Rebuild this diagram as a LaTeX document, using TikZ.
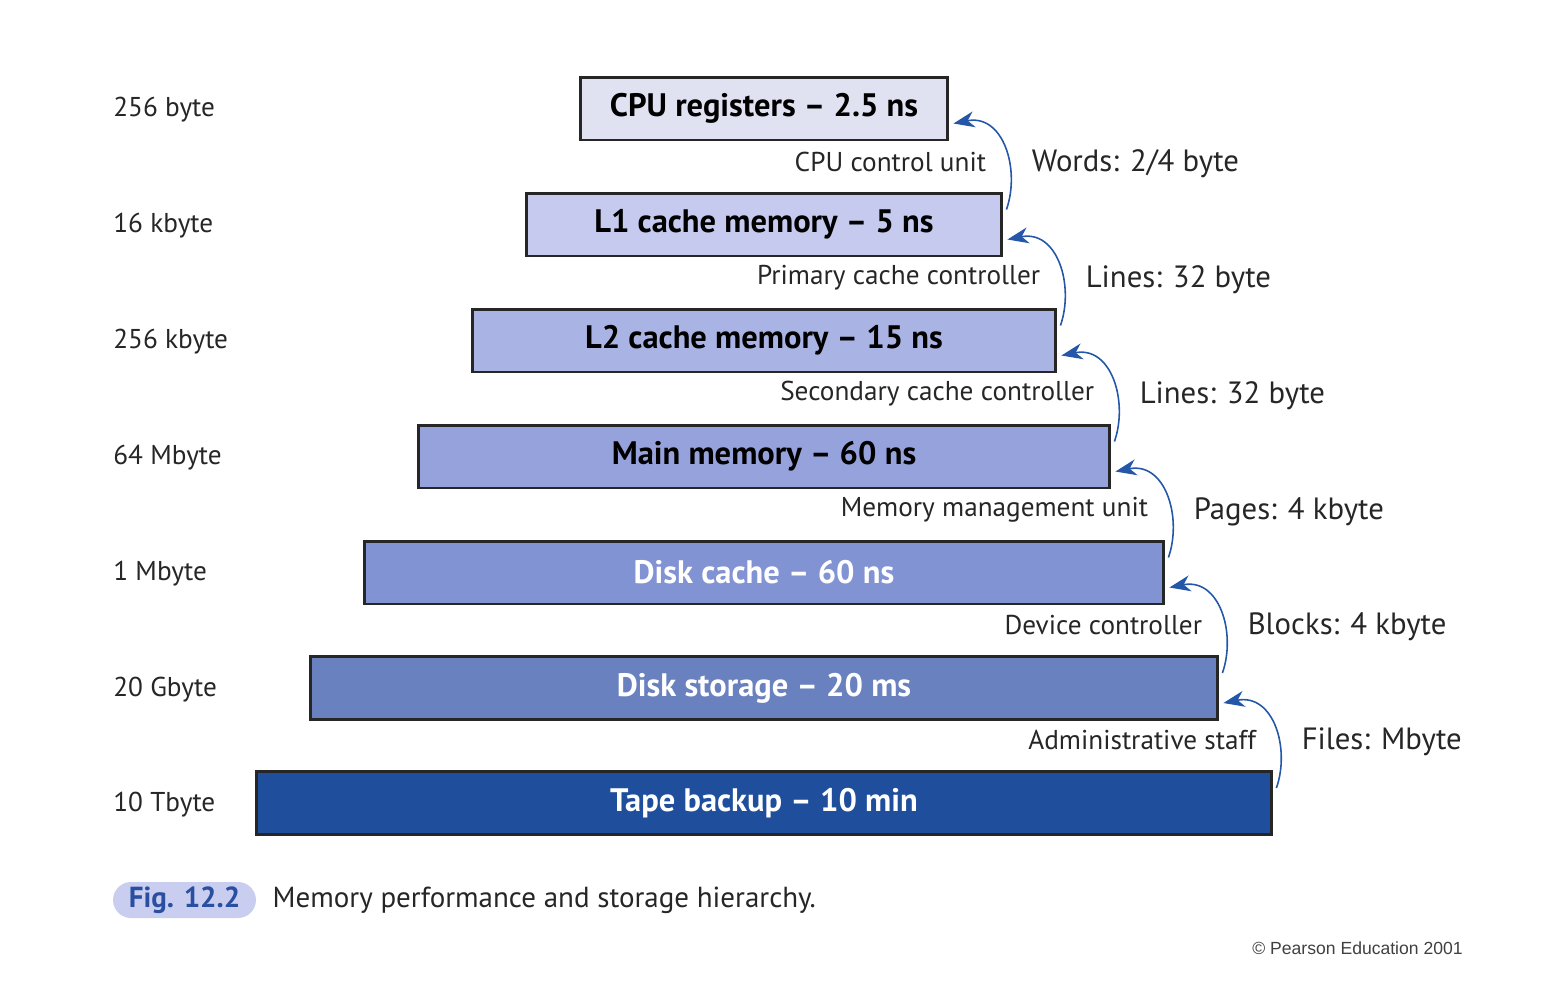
\documentclass[tikz,border=0pt]{standalone}
\usepackage{fontspec}
\setmainfont{PT Sans}
\setsansfont{Liberation Sans}
\usetikzlibrary{positioning, arrows.meta, calc}

\definecolor{lvA}{HTML}{E0E2F2}
\definecolor{lvB}{HTML}{C5CAEE}
\definecolor{lvC}{HTML}{AAB4E4}
\definecolor{lvD}{HTML}{96A2DC}
\definecolor{lvE}{HTML}{8293D3}
\definecolor{lvF}{HTML}{6A81C0}
\definecolor{lvG}{HTML}{1E4E9C}
\definecolor{arrblue}{HTML}{2457A8}
\definecolor{figblue}{HTML}{2A4FA0}
\definecolor{pill}{HTML}{C9CEF0}

\begin{document}
\begin{tikzpicture}[
  x=0.02cm, y=-0.02cm,
  level/.style={rectangle, draw=black!85, line width=1.7pt, minimum height=1.26cm,
    inner sep=0pt, font=\fontsize{18.5}{20}\selectfont\bfseries},
  sizelbl/.style={anchor=west, inner sep=0pt, font=\fontsize{15.5}{18}\selectfont, text=black!85},
  ctrllbl/.style={anchor=east, inner sep=0pt, font=\fontsize{15.5}{18}\selectfont, text=black!85},
  unitlbl/.style={anchor=west, inner sep=0pt, font=\fontsize{17.5}{20}\selectfont, text=black!85},
  uparr/.style={-{Stealth[length=4.2mm, width=3.2mm, inset=1.3mm]}, draw=arrblue, line width=0.9pt}
]
  \useasboundingbox (0,0) rectangle (1545,991);

  % Pyramid of memory levels
  \node[level, fill=lvA, minimum width=7.36cm] (b1) at (764,108.5) {CPU registers -- 2.5 ns};
  \node[level, fill=lvB, minimum width=9.52cm] (b2) at (764,224.5) {L1 cache memory -- 5 ns};
  \node[level, fill=lvC, minimum width=11.68cm] (b3) at (764,340.5) {L2 cache memory -- 15 ns};
  \node[level, fill=lvD, minimum width=13.84cm] (b4) at (764,456.5) {Main memory -- 60 ns};
  \node[level, fill=lvE, minimum width=16.0cm, text=white] (b5) at (764,572.5) {Disk cache -- 60 ns};
  \node[level, fill=lvF, minimum width=18.16cm, text=white] (b6) at (764,688) {Disk storage -- 20 ms};
  \node[level, fill=lvG, minimum width=20.32cm, text=white] (b7) at (764,803) {Tape backup -- 10 min};

  % Capacities
  \node[sizelbl] (s1) at (113,110) {256 byte};
  \node[sizelbl] (s2) at (113,226) {16 kbyte};
  \node[sizelbl] (s3) at (113,342) {256 kbyte};
  \node[sizelbl] (s4) at (113,458) {64 Mbyte};
  \node[sizelbl] (s5) at (113,574) {1 Mbyte};
  \node[sizelbl] (s6) at (113,690) {20 Gbyte};
  \node[sizelbl] (s7) at (113,805) {10 Tbyte};

  % Transfers between levels
  \foreach \lo/\hi/\ctrl/\unit in {b2/b1/CPU control unit/Words: 2\slash 4 byte,
      b3/b2/Primary cache controller/Lines: 32 byte,
      b4/b3/Secondary cache controller/Lines: 32 byte,
      b5/b4/Memory management unit/Pages: 4 kbyte,
      b6/b5/Device controller/Blocks: 4 kbyte,
      b7/b6/Administrative staff/Files: Mbyte} {
    \coordinate (st-\lo) at ($(\lo.north east)+(3,18)$);
    \coordinate (tip-\hi) at ($(\hi.north east)+(4,48)$);
    \draw[uparr] (st-\lo) .. controls ($(st-\lo)+(14,-40)$) and ($(tip-\hi)+(50,-10)$) .. (tip-\hi);
    \node[ctrllbl] (c-\lo) at ($(\lo.north east)+(-17,-30)$) {\ctrl};
    \node[unitlbl] (u-\lo) at ($(\lo.north east)+(28,-28)$) {\unit};
  }

  % Caption
  \node[fill=pill, rounded corners=0.36cm, minimum width=2.86cm, minimum height=0.72cm,
    inner sep=0pt, font=\fontsize{16.5}{18}\selectfont\bfseries, text=figblue] (fig) at (184.5,900) {Fig. 12.2};
  \node[anchor=west, inner sep=0pt, font=\fontsize{16.5}{18}\selectfont, text=black!85,
    right=0.32cm of fig] (cap) {Memory performance and storage hierarchy.};
  \node[anchor=east, inner sep=0pt, font=\sffamily\fontsize{10}{12}\selectfont, text=black!75] (copy) at (1463,948) {\textcopyright{} Pearson Education 2001};
\end{tikzpicture}
\end{document}
